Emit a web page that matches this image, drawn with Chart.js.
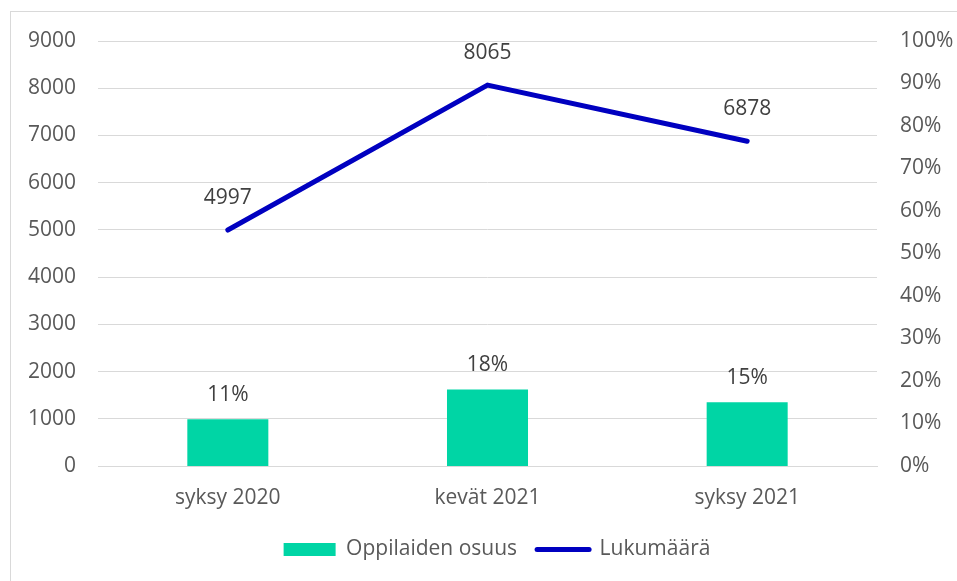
<!DOCTYPE html>
<html>
<head>
<meta charset="utf-8">
<script src="https://cdn.jsdelivr.net/npm/chart.js@4"></script>
<style>
  html, body { margin: 0; padding: 0; background: #fff; }
  #wrap { position: relative; width: 957px; height: 581px; overflow: hidden; }
  #frame { position: absolute; left: 10px; top: 11px; width: 1000px; height: 700px; border: 1px solid #d9d9d9; box-sizing: border-box; }
  #chart { position: absolute; left: 0; top: 0; }
</style>
</head>
<body>
<div id="wrap">
  <div id="frame"></div>
  <canvas id="chart" width="957" height="581"></canvas>
</div>
<script>
// ===== DATA =====
const categories = ['syksy 2020', 'kevät 2021', 'syksy 2021'];
const shareValues = [11, 18, 15];        // Oppilaiden osuus (%)
const countValues = [4997, 8065, 6878];  // Lukumäärä
const leftTicks = [0, 1000, 2000, 3000, 4000, 5000, 6000, 7000, 8000, 9000];
const rightTicks = [0, 10, 20, 30, 40, 50, 60, 70, 80, 90, 100];

const FONT = { family: '"Open Sans", sans-serif', size: 21 };
const GREY = '#595959';

// labels above bars / points
const valueLabels = {
  id: 'valueLabels',
  afterDatasetsDraw(chart) {
    const ctx = chart.ctx;
    ctx.save();
    ctx.font = `${FONT.size}px ${FONT.family}`;
    ctx.fillStyle = '#404040';
    ctx.textAlign = 'center';
    ctx.textBaseline = 'middle';
    chart.data.datasets.forEach((ds, i) => {
      const meta = chart.getDatasetMeta(i);
      meta.data.forEach((el, j) => {
        if (ds.type === 'bar') ctx.fillText(ds.data[j] + '%', el.x, el.y - 24);
        else ctx.fillText(String(ds.data[j]), el.x, el.y - 32);
      });
    });
    ctx.restore();
  }
};

// legend sits a bit right of centre, like the original
const legendShift = {
  id: 'legendShift',
  afterLayout(chart) {
    if (chart.legend) chart.legend.left += 37;
  }
};

new Chart(document.getElementById('chart'), {
  data: {
    labels: categories,
    datasets: [
      {
        type: 'bar',
        label: 'Oppilaiden osuus',
        data: shareValues,
        yAxisID: 'y2',
        backgroundColor: '#00D5A5',
        borderWidth: 0,
        categoryPercentage: 1,
        barPercentage: 0.312
      },
      {
        type: 'line',
        label: 'Lukumäärä',
        data: countValues,
        yAxisID: 'y',
        borderColor: '#0000C0',
        backgroundColor: '#0000C0',
        borderWidth: 5,
        borderCapStyle: 'round',
        pointRadius: 0,
        tension: 0
      }
    ]
  },
  options: {
    responsive: false,
    animation: false,
    layout: { padding: { top: 41, left: 0, right: 0, bottom: 11 } },
    plugins: {
      tooltip: { enabled: false },
      legend: {
        position: 'bottom',
        labels: {
          font: FONT,
          color: GREY,
          usePointStyle: true,
          pointStyleWidth: 52,
          boxHeight: 13,
          padding: 20,
          generateLabels(chart) {
            return Chart.defaults.plugins.legend.labels.generateLabels(chart).map(item => {
              const ds = chart.data.datasets[item.datasetIndex];
              if (ds.type === 'bar') {
                item.pointStyle = 'rect';
                item.lineWidth = 0;
              } else {
                item.pointStyle = 'line';
                item.lineWidth = 5;
                item.lineCap = 'round';
              }
              return item;
            });
          }
        }
      }
    },
    scales: {
      x: {
        grid: { display: false, drawTicks: false },
        border: { display: true, color: '#d9d9d9', width: 1 },
        ticks: { font: FONT, color: GREY, padding: 19 },
        afterFit(scale) { scale.height = 53; }
      },
      y: {
        position: 'left',
        min: 0,
        max: 9000,
        afterBuildTicks(scale) { scale.ticks = leftTicks.map(v => ({ value: v })); },
        grid: { color: '#d9d9d9', lineWidth: 1, drawTicks: false },
        border: { display: false },
        ticks: { font: FONT, color: GREY, padding: 22, callback: v => String(v) },
        afterFit(scale) { scale.width = 98; }
      },
      y2: {
        position: 'right',
        min: 0,
        max: 100,
        afterBuildTicks(scale) { scale.ticks = rightTicks.map(v => ({ value: v })); },
        grid: { display: false, drawTicks: false },
        border: { display: false },
        ticks: { font: FONT, color: GREY, padding: 23, callback: v => v + '%' },
        afterFit(scale) { scale.width = 80; }
      }
    }
  },
  plugins: [valueLabels, legendShift]
});
</script>
</body>
</html>
